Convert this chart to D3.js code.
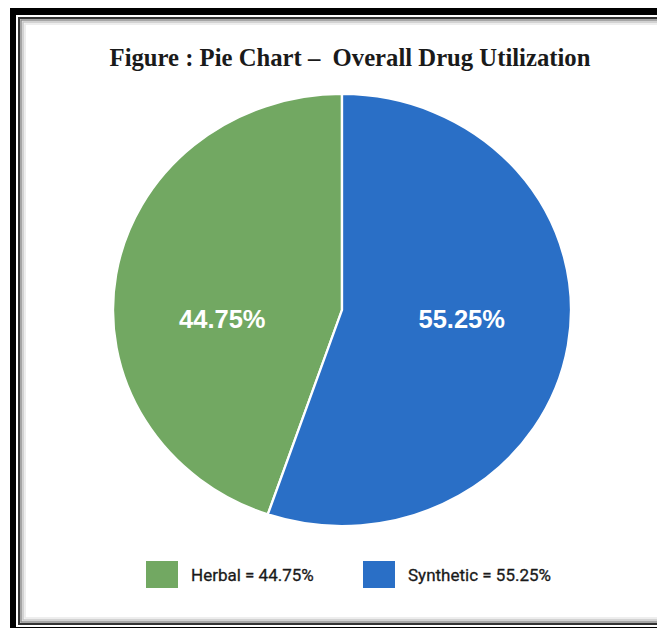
<!DOCTYPE html>
<html>
<head>
<meta charset="utf-8">
<script src="https://cdn.jsdelivr.net/npm/d3@7"></script>
<style>
  html, body { margin: 0; padding: 0; background: #ffffff; }
  svg { display: block; }
</style>
</head>
<body>
<script>
// ---- data ----
const categories = ["Herbal", "Synthetic"];
const values = [44.75, 55.25];
const colors = ["#72a862", "#2a6fc6"];
const titleText = "Figure : Pie Chart \u2013  Overall Drug Utilization";

const W = 657, H = 628;
const svg = d3.select("body").append("svg").attr("width", W).attr("height", H);

// frame
svg.append("rect").attr("x", 0).attr("y", 0).attr("width", W).attr("height", H).attr("fill", "#ffffff");
svg.append("rect").attr("x", 10).attr("y", 8).attr("width", W + 20).attr("height", H + 20).attr("fill", "#000");
svg.append("rect").attr("x", 16).attr("y", 15).attr("width", W + 20).attr("height", 612).attr("fill", "#ffffff");
const frameLines = [
  {o: 0, c: "#333", w: 2},
  {o: 2, c: "#888", w: 1.5},
  {o: 4, c: "#c4c4c4", w: 1.5},
  {o: 6, c: "#e8e8e8", w: 1.5}
];
frameLines.forEach(f => {
  svg.append("rect")
    .attr("x", 19 + f.o).attr("y", 18 + f.o)
    .attr("width", W + 20).attr("height", 606 - 2 * f.o)
    .attr("fill", "none").attr("stroke", f.c).attr("stroke-width", f.w);
});

// title
svg.append("text")
  .attr("x", 350).attr("y", 66)
  .attr("text-anchor", "middle")
  .style("white-space", "pre")
  .attr("font-family", "'Liberation Serif', 'Times New Roman', serif")
  .attr("font-weight", "bold")
  .attr("font-size", 24.7)
  .attr("fill", "#1a1a1a")
  .text(titleText);

// pie
const data = categories.map((c, i) => ({name: c, value: values[i], color: colors[i]}));
const cx = 342, cy = 310, ry = 216, rx = 229;
const pie = d3.pie().value(d => d.value); // default: descending sort, clockwise from top
const arc = d3.arc().innerRadius(0).outerRadius(ry);
const labelArc = d3.arc().innerRadius(ry * 0.53).outerRadius(ry * 0.53);

const g = svg.append("g").attr("transform", `translate(${cx},${cy})`);
const gp = g.append("g").attr("transform", `scale(${rx / ry},1)`);
const arcs = pie(data);
gp.selectAll("path").data(arcs).join("path")
  .attr("d", arc)
  .attr("fill", d => d.data.color)
  .attr("stroke", "#ffffff")
  .attr("stroke-width", 2.2)
  .attr("stroke-linejoin", "round");

g.selectAll("text.lbl").data(arcs).join("text")
  .attr("class", "lbl")
  .attr("x", d => labelArc.centroid(d)[0] * (rx / ry))
  .attr("y", 18)
  .attr("text-anchor", "middle")
  .attr("font-family", "'Liberation Sans', Arial, sans-serif")
  .attr("font-weight", "bold")
  .attr("font-size", 25.5)
  .attr("fill", "#ffffff")
  .text(d => d.data.value.toFixed(2) + "%");

// legend
const legX = d3.scalePoint().domain(categories).range([146, 363]);
const leg = svg.append("g");
const items = leg.selectAll("g").data(data).join("g")
  .attr("transform", d => `translate(${legX(d.name)},561)`);
items.append("rect").attr("width", 32).attr("height", 27).attr("fill", d => d.color);
items.append("text")
  .attr("x", 45).attr("y", 20)
  .attr("font-family", "Roboto, 'Liberation Sans', sans-serif")
  .attr("font-size", 17)
  .attr("fill", "#1a1a1a")
  .attr("stroke", "#1a1a1a")
  .attr("stroke-width", 0.3)
  .text(d => `${d.name} = ${d.value.toFixed(2)}%`);
</script>
</body>
</html>
